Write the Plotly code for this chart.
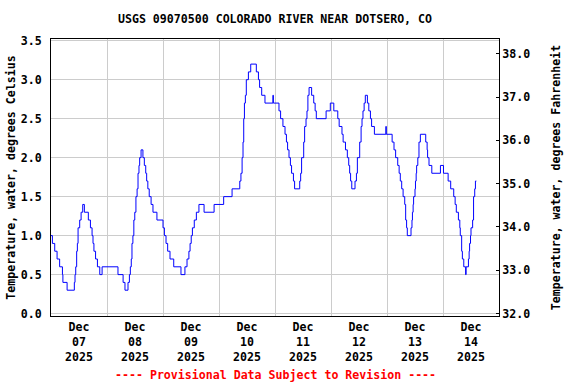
import pandas as pd
import plotly.graph_objects as go

# Water temperature (deg C) change points: hours since 2025-12-07 00:00 -> value (held until next point)
hours = [0.0, 0.6, 1.6, 2.6, 3.7, 4.9, 5.1, 6.9, 10.0, 10.3, 10.6, 11.0, 11.3, 11.6, 12.3, 12.9, 13.6, 14.3,
         16.0, 16.9, 17.6, 18.0, 18.4, 19.1, 19.9, 20.9, 21.9,
         28.7, 30.9, 31.7, 33.0, 33.6, 34.0, 34.4, 34.7, 35.1, 35.5, 35.9, 36.4, 36.9, 37.3, 37.7, 38.0, 38.6,
         39.4, 40.0, 40.6, 41.0, 41.5, 42.1, 42.9, 43.7, 45.4, 48.0,
         48.6, 49.3, 50.0, 51.0, 52.6, 55.7, 57.4, 58.3, 59.1, 59.6, 60.1, 60.6, 61.4, 62.3, 63.4, 65.6, 69.9,
         74.0, 77.6, 80.9, 81.4, 81.9, 82.3, 82.6, 82.9, 83.3, 83.7, 84.6, 85.6, 88.0, 88.9, 89.4, 90.3, 91.7,
         95.1, 95.3, 97.7, 98.4, 99.4, 100.3, 100.9, 101.4, 102.0, 102.6, 103.1, 103.9, 104.4, 106.6, 107.0,
         107.4, 108.3, 108.7, 109.3, 109.7, 110.1, 110.6, 111.7, 112.6, 113.2, 113.7, 117.9, 119.7, 121.2,
         122.9, 123.5, 124.7, 125.2, 126.2, 127.0, 127.6, 128.0, 128.4, 128.9, 130.3, 130.9, 131.3, 132.3,
         132.9, 133.3, 133.7, 134.2, 134.7, 135.6, 136.2, 136.9, 137.4, 138.6, 143.5, 143.7, 146.2, 147.0,
         147.7, 148.6, 149.2, 149.7, 150.3, 150.9, 151.6, 152.0, 152.4, 152.7, 154.3, 154.7, 154.9, 155.2,
         155.4, 156.0, 156.2, 156.5, 156.7, 157.2, 157.7, 158.3, 160.6, 161.2, 161.4, 162.0, 163.2, 166.9,
         168.2, 170.2, 171.3, 172.6, 173.2, 173.7, 174.6, 175.2, 175.4, 176.0, 176.3, 176.9, 177.7, 177.9,
         178.9, 179.2, 179.4, 179.8, 180.0, 180.7, 181.1, 181.6, 181.9, 182.3]
temp_c = [1.0, 0.9, 0.8, 0.7, 0.6, 0.5, 0.4, 0.3, 0.4, 0.5, 0.6, 0.8, 0.9, 1.1, 1.2, 1.3, 1.4, 1.3,
          1.2, 1.1, 1.0, 0.9, 0.8, 0.7, 0.6, 0.5, 0.6,
          0.5, 0.4, 0.3, 0.4, 0.5, 0.6, 0.7, 0.9, 1.0, 1.2, 1.3, 1.5, 1.6, 1.8, 1.9, 2.0, 2.1,
          2.0, 1.9, 1.8, 1.7, 1.6, 1.5, 1.4, 1.3, 1.2, 1.1,
          1.0, 0.9, 0.8, 0.7, 0.6, 0.5, 0.6, 0.7, 0.8, 0.9, 1.0, 1.1, 1.2, 1.3, 1.4, 1.3, 1.4,
          1.5, 1.6, 1.7, 1.8, 2.0, 2.2, 2.5, 2.7, 2.8, 3.0, 3.1, 3.2, 3.1, 3.0, 2.9, 2.8, 2.7,
          2.8, 2.7, 2.6, 2.5, 2.4, 2.3, 2.2, 2.1, 2.0, 1.9, 1.8, 1.7, 1.6, 1.7, 1.8,
          2.0, 2.2, 2.4, 2.5, 2.6, 2.8, 2.9, 2.8, 2.7, 2.6, 2.5, 2.6, 2.7, 2.6,
          2.5, 2.4, 2.3, 2.2, 2.1, 2.0, 1.9, 1.8, 1.7, 1.6, 1.7, 1.8, 2.0, 2.2,
          2.4, 2.5, 2.6, 2.7, 2.8, 2.7, 2.6, 2.5, 2.4, 2.3, 2.4, 2.3, 2.2, 2.1,
          2.0, 1.9, 1.8, 1.7, 1.6, 1.5, 1.4, 1.2, 1.1, 1.0, 1.1, 1.2, 1.3, 1.4,
          1.5, 1.6, 1.7, 1.8, 1.9, 2.0, 2.2, 2.3, 2.2, 2.1, 2.0, 1.9, 1.8, 1.9,
          1.8, 1.7, 1.6, 1.5, 1.4, 1.3, 1.2, 1.1, 1.0, 0.8, 0.7, 0.6, 0.5, 0.6,
          0.7, 0.8, 0.9, 1.0, 1.1, 1.2, 1.5, 1.6, 1.7, 1.7]

days = ["2025-12-07", "2025-12-08", "2025-12-09", "2025-12-10",
        "2025-12-11", "2025-12-12", "2025-12-13", "2025-12-14"]
day_labels = ["Dec<br>07<br>2025", "Dec<br>08<br>2025", "Dec<br>09<br>2025", "Dec<br>10<br>2025",
              "Dec<br>11<br>2025", "Dec<br>12<br>2025", "Dec<br>13<br>2025", "Dec<br>14<br>2025"]
c_ticks = [0.0, 0.5, 1.0, 1.5, 2.0, 2.5, 3.0, 3.5]
f_ticks = [32.0, 33.0, 34.0, 35.0, 36.0, 37.0, 38.0]

start = pd.Timestamp("2025-12-07 00:00")
times = start + pd.to_timedelta(hours, unit="h")

c_range = [-0.031, 3.522]
f_range = [c * 1.8 + 32 for c in c_range]

FONT = dict(family="DejaVu Sans Mono", size=11.6, color="black", weight="bold")
GRID = "#cccccc"

fig = go.Figure()
fig.add_trace(go.Scatter(x=times, y=temp_c, mode="lines", line=dict(color="#0000ff", width=1, shape="hv"),
                         hoverinfo="skip", showlegend=False))
fig.add_trace(go.Scatter(x=[], y=[], yaxis="y2", showlegend=False, hoverinfo="skip"))

noon = [d + " 12:00" for d in days]
midnights = [d + " 00:00" for d in days[1:]]

fig.update_layout(
    width=576, height=384,
    margin=dict(l=51, r=77, t=39, b=68, autoexpand=False),
    paper_bgcolor="white", plot_bgcolor="white",
    font=FONT,
    showlegend=False,
    title=dict(text="USGS 09070500 COLORADO RIVER NEAR DOTSERO, CO", x=0.5, xref="paper",
               xanchor="center", y=1 - 19 / 384, yanchor="middle", font=FONT),
    xaxis=dict(type="date", range=["2025-12-07 00:00", "2025-12-15 00:00"],
               tickmode="array", tickvals=noon, ticktext=day_labels, ticks="",
               showgrid=False, zeroline=False, showline=True, linecolor="black", linewidth=1, mirror=True,
               minor=dict(tickmode="array", tickvals=midnights, showgrid=True, gridcolor=GRID, gridwidth=1, ticks=""),
               tickfont=FONT),
    yaxis=dict(range=c_range, tickmode="array", tickvals=c_ticks, tickformat=".1f",
               showgrid=True, gridcolor=GRID, gridwidth=1, zeroline=False,
               showline=True, linecolor="black", linewidth=1, mirror=True,
               ticks="outside", ticklen=6, tickcolor="rgba(0,0,0,0)", tickfont=FONT,
               title=dict(text="Temperature, water, degrees Celsius", standoff=2, font=FONT)),
    yaxis2=dict(range=f_range, overlaying="y", side="right", tickmode="array", tickvals=f_ticks,
                tickformat=".1f", showgrid=False, zeroline=False, showline=True, linecolor="black",
                linewidth=1, ticks="inside", ticklen=3, tickcolor="black", tickfont=FONT,
                title=dict(text="Temperature, water, degrees Fahrenheit", standoff=22, font=FONT)),
    annotations=[dict(text="---- Provisional Data Subject to Revision ----", xref="paper", yref="paper",
                      x=0.5, y=(316 - 375) / 277, xanchor="center", yanchor="middle", showarrow=False,
                      font=dict(family="DejaVu Sans Mono", size=11.6, color="#ff0000", weight="bold"))],
)

fig.write_html("out.html", config={"displayModeBar": False},
               post_script="document.body.style.margin='0';document.body.style.padding='0';")
